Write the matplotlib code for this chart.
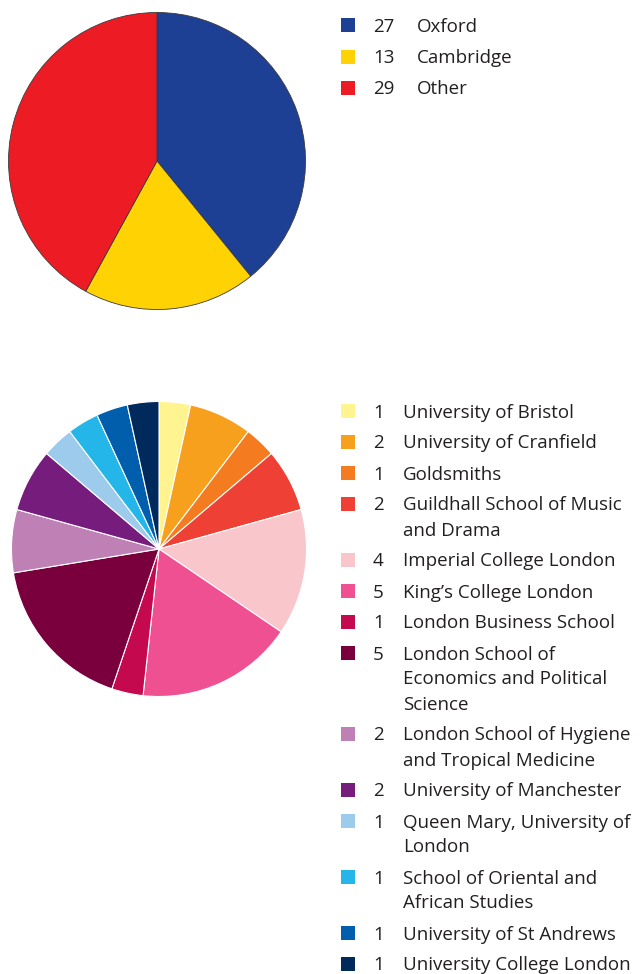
import matplotlib
matplotlib.use("Agg")
import matplotlib.pyplot as plt
from matplotlib.patches import Rectangle

# top pie: Oxford / Cambridge / other
top_labels = ["Oxford", "Cambridge", "Other"]
top_counts = [27, 13, 29]
top_colors = ["#1D3F94", "#FFD204", "#ED1C24"]

# bottom pie: breakdown of "Other"
uni_labels = [
    "University of Bristol",
    "University of Cranfield",
    "Goldsmiths",
    "Guildhall School of Music\nand Drama",
    "Imperial College London",
    "King\u2019s College London",
    "London Business School",
    "London School of\nEconomics and Political\nScience",
    "London School of Hygiene\nand Tropical Medicine",
    "University of Manchester",
    "Queen Mary, University of\nLondon",
    "School of Oriental and\nAfrican Studies",
    "University of St Andrews",
    "University College London",
]
uni_counts = [1, 2, 1, 2, 4, 5, 1, 5, 2, 2, 1, 1, 1, 1]
uni_colors = ["#FFF48F", "#F6A01E", "#F47B20", "#EE4035", "#F8C6CB",
              "#EE5091", "#C4094F", "#79003C", "#BE80B5", "#751C7C",
              "#9DCBEC", "#25B6E9", "#005EAC", "#002A5C"]

W, H = 640, 974
plt.rcParams['font.family'] = ['Open Sans', 'DejaVu Sans']
fig = plt.figure(figsize=(W / 100, H / 100), dpi=100)
txt_color = "#231F20"


def pie_axes(cx, cy, r):
    ax = fig.add_axes([(cx - r) / W, (H - cy - r) / H, 2 * r / W, 2 * r / H])
    return ax


ax1 = pie_axes(157, 161, 150)
ax1.pie(top_counts, colors=top_colors, startangle=90, counterclock=False,
        radius=1, wedgeprops=dict(edgecolor="#3a3a3a", linewidth=0.6))
ax1.set_xlim(-1.01, 1.01)
ax1.set_ylim(-1.01, 1.01)
ax1.set_aspect("equal")
ax1.axis("off")

ax2 = pie_axes(159, 549, 149)
ax2.pie(uni_counts, colors=uni_colors, startangle=90, counterclock=False,
        radius=1, wedgeprops=dict(edgecolor="white", linewidth=0.8))
ax2.set_xlim(-1.01, 1.01)
ax2.set_ylim(-1.01, 1.01)
ax2.set_aspect("equal")
ax2.axis("off")

# legends drawn in pixel coordinates on a transparent overlay
lg = fig.add_axes([0, 0, 1, 1])
lg.set_xlim(0, W)
lg.set_ylim(H, 0)
lg.axis("off")
lg.patch.set_alpha(0)

fs = 13.5


def legend(labels, counts, colors, y0, x_label, step=31, wrap=25):
    y = y0
    for lab, n, c in zip(labels, counts, colors):
        lg.add_patch(Rectangle((341, y - 7), 14, 14, color=c, lw=0))
        lg.text(373, y + 1.5, str(n), fontsize=fs, color=txt_color, va="center", ha="left")
        lines = lab.split("\n")
        for k, line in enumerate(lines):
            lg.text(x_label, y + 1.5 + k * wrap, line, fontsize=fs, color=txt_color,
                    va="center", ha="left")
        y += step + (len(lines) - 1) * wrap


legend(top_labels, top_counts, top_colors, 25, 417, step=31.5)
legend(uni_labels, uni_counts, uni_colors, 411, 403)

fig.savefig("out.png", dpi=100)
